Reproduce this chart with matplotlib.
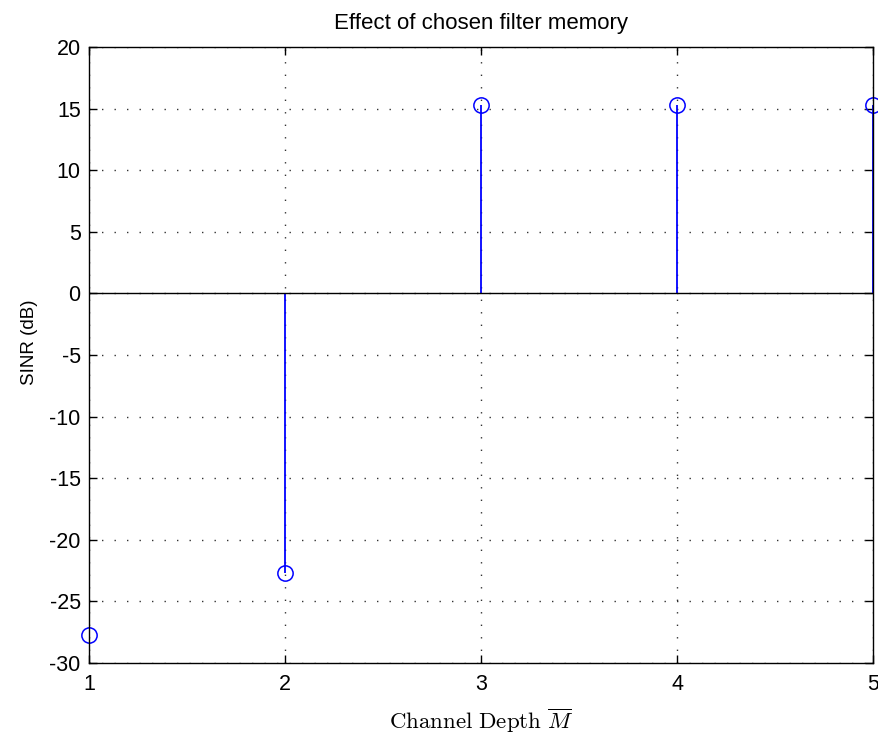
import numpy as np
import matplotlib
matplotlib.use("Agg")
import matplotlib.pyplot as plt

plt.rcParams['font.family'] = ['Liberation Sans', 'DejaVu Sans']
plt.rcParams['mathtext.fontset'] = 'cm'
plt.rcParams['axes.unicode_minus'] = False

# SINR achieved for each channel depth
depth = [1, 2, 3, 4, 5]
sinr_db = [-27.7, -22.7, 15.3, 15.3, 15.3]

fig = plt.figure(figsize=(8.79, 7.35), dpi=100)
ax = fig.add_axes([0.1013, 0.098, 0.8919, 0.838])

markerline, stemlines, baseline = ax.stem(depth, sinr_db, basefmt='k-')
markerline.set_markerfacecolor('none')
markerline.set_markeredgecolor('b')
markerline.set_markersize(11)
markerline.set_markeredgewidth(1.1)
markerline.set_clip_on(False)
stemlines.set_color('b')
stemlines.set_linewidth(1.3)
baseline.set_linewidth(1.0)
baseline.set_xdata([0, 1])
baseline.set_transform(ax.get_yaxis_transform())

ax.set_xlim(1, 5)
ax.set_ylim(-30, 20)
ax.set_xticks([1, 2, 3, 4, 5])
ax.set_yticks(np.arange(-30, 21, 5))
ax.grid(True, color='k', linestyle=(0, (1, 8)), linewidth=1.0, alpha=0.8)
ax.tick_params(direction='in', top=True, right=True, labelsize=15.5,
               length=6, width=1.0)
ax.tick_params(axis='y', pad=6)
ax.tick_params(axis='x', pad=8)
for sp in ax.spines.values():
    sp.set_linewidth(1.0)

ax.set_title('Effect of chosen filter memory', fontsize=16, pad=13)
ax.set_ylabel('SINR (dB)', fontsize=13.5)
ax.yaxis.set_label_coords(-0.065, 0.52)
ax.set_xlabel(r'$\mathrm{Channel\ Depth}\ \overline{M}$', fontsize=16.5, labelpad=8)

fig.savefig('out.png', dpi=100)
